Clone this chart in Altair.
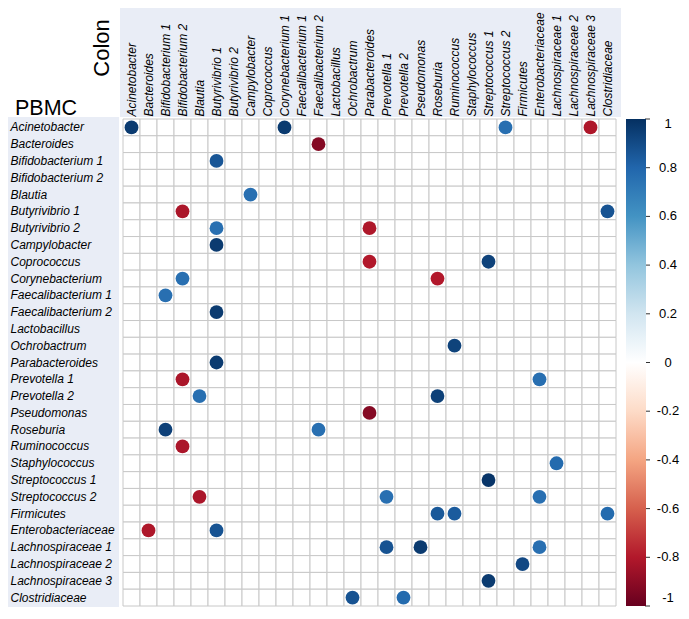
import altair as alt
import pandas as pd

pbmc_taxa = [
    "Acinetobacter", "Bacteroides", "Bifidobacterium 1", "Bifidobacterium 2",
    "Blautia", "Butyrivibrio 1", "Butyrivibrio 2", "Campylobacter", "Coprococcus",
    "Corynebacterium", "Faecalibacterium 1", "Faecalibacterium 2", "Lactobacillus",
    "Ochrobactrum", "Parabacteroides", "Prevotella 1", "Prevotella 2", "Pseudomonas",
    "Roseburia", "Ruminococcus", "Staphylococcus", "Streptococcus 1", "Streptococcus 2",
    "Firmicutes", "Enterobacteriaceae", "Lachnospiraceae 1", "Lachnospiraceae 2",
    "Lachnospiraceae 3", "Clostridiaceae",
]
colon_taxa = [
    "Acinetobacter", "Bacteroides", "Bifidobacterium 1", "Bifidobacterium 2",
    "Blautia", "Butyrivibrio 1", "Butyrivibrio 2", "Campylobacter", "Coprococcus",
    "Corynebacterium 1", "Faecalibacterium 1", "Faecalibacterium 2", "Lactobacillus",
    "Ochrobactrum", "Parabacteroides", "Prevotella 1", "Prevotella 2", "Pseudomonas",
    "Roseburia", "Ruminococcus", "Staphylococcus", "Streptococcus 1", "Streptococcus 2",
    "Firmicutes", "Enterobacteriaceae", "Lachnospiraceae 1", "Lachnospiraceae 2",
    "Lachnospiraceae 3", "Clostridiaceae",
]

# significant correlations: PBMC taxon, colon taxon, r
dot_pbmc = [
    "Acinetobacter", "Acinetobacter", "Acinetobacter", "Acinetobacter",
    "Bacteroides", "Bifidobacterium 1", "Blautia",
    "Butyrivibrio 1", "Butyrivibrio 1", "Butyrivibrio 2", "Butyrivibrio 2",
    "Campylobacter", "Coprococcus", "Coprococcus",
    "Corynebacterium", "Corynebacterium", "Faecalibacterium 1", "Faecalibacterium 2",
    "Ochrobactrum", "Parabacteroides", "Prevotella 1", "Prevotella 1",
    "Prevotella 2", "Prevotella 2", "Pseudomonas", "Roseburia", "Roseburia",
    "Ruminococcus", "Staphylococcus", "Streptococcus 1",
    "Streptococcus 2", "Streptococcus 2", "Streptococcus 2",
    "Firmicutes", "Firmicutes", "Firmicutes",
    "Enterobacteriaceae", "Enterobacteriaceae",
    "Lachnospiraceae 1", "Lachnospiraceae 1", "Lachnospiraceae 1",
    "Lachnospiraceae 2", "Lachnospiraceae 3", "Clostridiaceae", "Clostridiaceae",
]
dot_colon = [
    "Acinetobacter", "Corynebacterium 1", "Streptococcus 2", "Lachnospiraceae 3",
    "Faecalibacterium 2", "Butyrivibrio 1", "Campylobacter",
    "Bifidobacterium 2", "Clostridiaceae", "Butyrivibrio 1", "Parabacteroides",
    "Butyrivibrio 1", "Parabacteroides", "Streptococcus 1",
    "Bifidobacterium 2", "Roseburia", "Bifidobacterium 1", "Butyrivibrio 1",
    "Ruminococcus", "Butyrivibrio 1", "Bifidobacterium 2", "Enterobacteriaceae",
    "Blautia", "Roseburia", "Parabacteroides", "Bifidobacterium 1", "Faecalibacterium 2",
    "Bifidobacterium 2", "Lachnospiraceae 1", "Streptococcus 1",
    "Blautia", "Prevotella 1", "Enterobacteriaceae",
    "Roseburia", "Ruminococcus", "Clostridiaceae",
    "Bacteroides", "Butyrivibrio 1",
    "Prevotella 1", "Pseudomonas", "Enterobacteriaceae",
    "Firmicutes", "Streptococcus 1", "Ochrobactrum", "Prevotella 2",
]
dot_r = [
    0.96, 0.96, 0.76, -0.81,
    -0.92, 0.86, 0.76,
    -0.82, 0.87, 0.76, -0.81,
    0.96, -0.80, 0.93,
    0.76, -0.80, 0.76, 0.96,
    0.93, 0.96, -0.82, 0.76,
    0.76, 0.94, -0.92, 0.94, 0.76,
    -0.82, 0.78, 0.98,
    -0.82, 0.76, 0.76,
    0.85, 0.84, 0.78,
    -0.81, 0.87,
    0.87, 0.96, 0.76,
    0.91, 0.96, 0.87, 0.78,
]
legend_ticks = [1, 0.8, 0.6, 0.4, 0.2, 0, -0.2, -0.4, -0.6, -0.8, -1]
# corrplot RdBu palette (11 anchor colours, linearly interpolated)
rdbu_stops = [-1, -0.8, -0.6, -0.4, -0.2, 0, 0.2, 0.4, 0.6, 0.8, 1]
rdbu_colors = ["#67001F", "#B2182B", "#D6604D", "#F4A582", "#FDDBC7", "#FFFFFF",
               "#D1E5F0", "#92C5DE", "#4393C3", "#2166AC", "#053061"]

cells = pd.DataFrame(
    [(p, c) for p in pbmc_taxa for c in colon_taxa], columns=["pbmc", "colon"]
)
dots = pd.DataFrame({"pbmc": dot_pbmc, "colon": dot_colon, "r": dot_r})
ticks_df = pd.DataFrame({"v": legend_ticks, "lab": [str(v) for v in legend_ticks]})

W, H = 493, 487
FONT = "Liberation Sans"
PANEL = "#e9edf6"
BAR_X = 503          # colour bar left edge (plot coords)
BAR_T = 20           # colour bar thickness

x_enc = alt.X(
    "colon:N",
    scale=alt.Scale(type="band", domain=colon_taxa, paddingInner=0, paddingOuter=0),
    axis=alt.Axis(
        orient="top", title=None, labelAngle=270, labelAlign="left",
        labelBaseline="middle", labelPadding=3, ticks=False, tickSize=0,
        domain=False, labelFont=FONT, labelFontStyle="italic", labelFontSize=12,
        labelColor="black", labelOverlap=False, labelLimit=200,
    ),
)
y_enc = alt.Y(
    "pbmc:N",
    scale=alt.Scale(type="band", domain=pbmc_taxa, paddingInner=0, paddingOuter=0),
    axis=alt.Axis(
        orient="left", title=None, labelAlign="left", labelBaseline="middle",
        labelPadding=113, ticks=False, tickSize=0, domain=False, labelFont=FONT,
        labelFontStyle="italic", labelFontSize=12, labelColor="black",
        labelOverlap=False, labelLimit=200,
    ),
)

one = alt.Data(values=[{}])

bg_header = alt.Chart(one).mark_rect(color=PANEL).encode(
    x=alt.value(-3), x2=alt.value(W + 5), y=alt.value(-120), y2=alt.value(-2)
)
bg_rows = alt.Chart(one).mark_rect(color=PANEL).encode(
    x=alt.value(-120), x2=alt.value(-4), y=alt.value(-2), y2=alt.value(H + 20)
)

grid = alt.Chart(cells).mark_rect(
    fill="white", stroke="#c8c8c8", strokeWidth=1
).encode(x=x_enc, y=y_enc)

circles = alt.Chart(dots).mark_circle(size=190, opacity=1).encode(
    x=x_enc,
    y=y_enc,
    color=alt.Color(
        "r:Q",
        scale=alt.Scale(domain=rdbu_stops, range=rdbu_colors, interpolate="rgb"),
        legend=alt.Legend(
            orient="none", legendX=BAR_X, legendY=0, direction="vertical",
            gradientLength=H, gradientThickness=BAR_T, title=None,
            labelOpacity=0, labelFontSize=1, gradientStrokeWidth=0, padding=0,
        ),
    ),
)

colon_title = alt.Chart(one).mark_text(
    text="Colon", angle=270, fontSize=22, font=FONT, align="center",
    baseline="middle", color="black",
).encode(x=alt.value(-21), y=alt.value(-71))

pbmc_title = alt.Chart(one).mark_text(
    text="PBMC", fontSize=21.5, font=FONT, align="left",
    baseline="alphabetic", color="black",
).encode(x=alt.value(-108), y=alt.value(-4))

cb_y = alt.Y("v:Q", scale=alt.Scale(domain=[-1, 1], range=[H, 0], nice=False), axis=None)

cb_ticks = alt.Chart(ticks_df).mark_rule(color="#333333", strokeWidth=1).encode(
    x=alt.value(BAR_X + BAR_T - 1), x2=alt.value(BAR_X + BAR_T + 4), y=cb_y
)
label_style = dict(align="center", baseline="middle", fontSize=13, font=FONT, color="black")
cb_base = alt.Chart(ticks_df).encode(x=alt.value(545), y=cb_y, text="lab:N")
cb_mid = cb_base.transform_filter("abs(datum.v) < 1").mark_text(**label_style)
cb_top = cb_base.transform_filter("datum.v == 1").mark_text(dy=5, **label_style)
cb_bot = cb_base.transform_filter("datum.v == -1").mark_text(dy=-8, **label_style)

main = alt.layer(bg_header, bg_rows, grid, circles, colon_title, pbmc_title)
bar = alt.layer(cb_ticks, cb_mid, cb_top, cb_bot)

chart = (
    alt.layer(main, bar)
    .resolve_scale(y="independent")
    .properties(
        width=W, height=H,
        autosize=alt.AutoSizeParams(type="none"),
        padding={"left": 115, "top": 111, "right": 65, "bottom": 1},
        background="white",
    )
    .configure_view(stroke=None)
)

chart.save("out.html", embed_options={"renderer": "svg", "actions": False})
